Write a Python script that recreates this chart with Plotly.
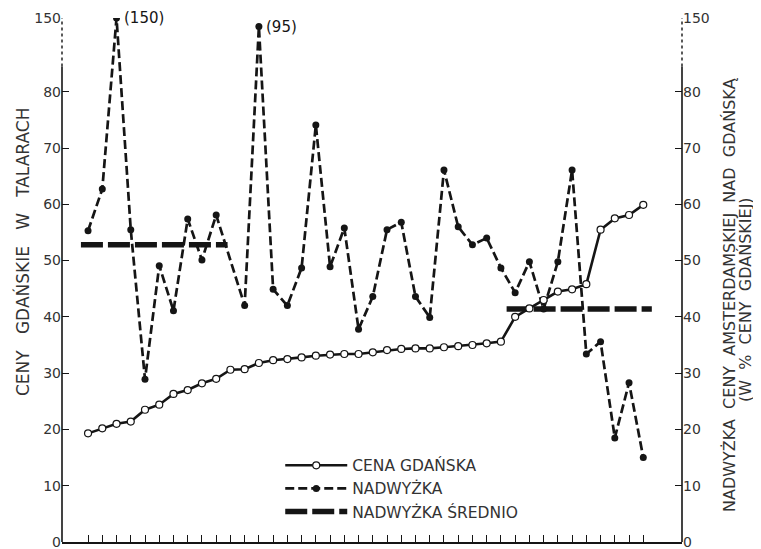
import plotly.graph_objects as go

# --- data ---
idx = list(range(40))
cena_gdanska = [19.3, 20.2, 21.0, 21.4, 23.5, 24.4, 26.3, 27.0, 28.2, 29.0,
                30.6, 30.7, 31.8, 32.3, 32.5, 32.8, 33.1, 33.3, 33.4, 33.4,
                33.7, 34.1, 34.3, 34.4, 34.4, 34.6, 34.8, 35.0, 35.3, 35.6,
                40.0, 41.5, 43.0, 44.5, 44.9, 45.8, 55.5, 57.5, 58.1, 59.9]
nadwyzka = [55.3, 62.7, 150, 55.5, 28.9, 49.1, 41.1, 57.4, 50.1, 58.1,
            None, 42.0, 95, 44.9, 42.0, 48.7, 74.1, 48.9, 55.8, 37.8,
            43.6, 55.5, 56.8, 43.6, 39.9, 66.1, 56.0, 52.8, 54.0, 48.7,
            44.3, 49.8, 41.4, 49.8, 66.1, 33.4, 35.6, 18.5, 28.3, 15.0]
# average surplus per period: (start index, end index, value)
srednio = [(-0.5, 9.8, 52.8), (29.4, 39.6, 41.4)]
tick_vals = [0, 10, 20, 30, 40, 50, 60, 70, 80, 150]
tick_labels = ["0", "10", "20", "30", "40", "50", "60", "70", "80", "150"]

BREAK = 80.0
TOP_POS = 93.1


def ypos(v):
    """Broken axis: linear up to 80, compressed above."""
    if v is None:
        return None
    if v <= BREAK:
        return v
    return BREAK + (TOP_POS - BREAK) * ((v - BREAK) / (150 - BREAK)) ** 0.08


FONT = "DejaVu Sans"
INK = "#151515"
GREY = "#333333"
SP2 = "&nbsp;&nbsp;"
SP3 = "&nbsp;&nbsp;&nbsp;"

fig = go.Figure()

# average surplus (thick long dashes)
ax, ay = [], []
for s, e, v in srednio:
    ax += [s, e, None]
    ay += [v, v, None]
fig.add_trace(go.Scatter(
    x=ax, y=ay, mode="lines", name="NADWYŻKA ŚREDNIO",
    line=dict(color=INK, width=5.5, dash="22px,5px"), connectgaps=False,
    legendrank=3))

# surplus
fig.add_trace(go.Scatter(
    x=idx, y=[ypos(v) for v in nadwyzka], mode="lines+markers", name="NADWYŻKA",
    line=dict(color=INK, width=2.7, dash="9px,4px"), connectgaps=True,
    marker=dict(symbol="circle", size=7, color=INK), legendrank=2))

# Gdańsk price
fig.add_trace(go.Scatter(
    x=idx, y=cena_gdanska, mode="lines+markers", name="CENA GDAŃSKA",
    line=dict(color=INK, width=2.6),
    marker=dict(symbol="circle", size=7, color="white",
                line=dict(color=INK, width=1.2)), legendrank=1))

# labels for off-scale values
for i, v in enumerate(nadwyzka):
    if v is not None and v > BREAK:
        fig.add_annotation(x=i, y=ypos(v), text=f"({v})", showarrow=False,
                           xanchor="left", yanchor="middle", xshift=5,
                           font=dict(family=FONT, size=15, color=INK))

y_pos_ticks = [ypos(v) for v in tick_vals]
yrange = [0, TOP_POS]

# the page body adds an 8px offset, so the figure is sized/margined to compensate
fig.update_layout(
    width=753, height=541,
    margin=dict(l=54, r=79, t=10, b=7),
    paper_bgcolor="white", plot_bgcolor="white",
    font=dict(family=FONT, color=INK),
    showlegend=True,
    legend=dict(x=0.352, y=0.178, xanchor="left", yanchor="top",
                bgcolor="rgba(0,0,0,0)", font=dict(family=FONT, size=15.5, color=GREY),
                itemwidth=62, tracegroupgap=0, traceorder="normal"),
    xaxis=dict(range=[-1.83, 41.72], tickvals=idx, showticklabels=False,
               ticks="inside", ticklen=7, tickcolor=INK, tickwidth=1,
               showline=True, linecolor=INK, linewidth=1.6, showgrid=False,
               zeroline=False, mirror=False),
    yaxis=dict(range=yrange, tickvals=y_pos_ticks, ticktext=tick_labels,
               ticks="inside", ticklen=7, tickcolor=INK, showline=False,
               showgrid=False, zeroline=False, automargin=False,
               ticklabeloverflow="allow",
               tickfont=dict(family=FONT, size=14, color=GREY)),
    yaxis2=dict(range=yrange, tickvals=y_pos_ticks, ticktext=tick_labels,
                overlaying="y", side="right", ticks="inside", ticklen=7,
                tickcolor=INK, showline=False, showgrid=False, zeroline=False,
                automargin=False, ticklabeloverflow="allow",
                tickfont=dict(family=FONT, size=14, color=GREY)),
)

# dummy invisible trace to activate yaxis2
fig.add_trace(go.Scatter(x=[None], y=[None], yaxis="y2", showlegend=False))

# axis lines: solid below the break, dotted across the break
for xp in (0, 1):
    fig.add_shape(type="line", xref="paper", yref="y", x0=xp, x1=xp,
                  y0=0, y1=84.5, line=dict(color=INK, width=1.6))
    fig.add_shape(type="line", xref="paper", yref="y", x0=xp, x1=xp,
                  y0=84.5, y1=TOP_POS, line=dict(color=INK, width=1.4, dash="dot"))

# axis titles (plot area spans 620 px wide, 524 px tall)
fig.add_annotation(xref="paper", yref="paper", x=(22 - 62) / 620, y=(542 - 252) / 524,
                   xanchor="center", yanchor="middle",
                   text=SP3.join(["CENY", "GDAŃSKIE", "W", "TALARACH"]),
                   textangle=-90, showarrow=False,
                   font=dict(family=FONT, size=17, color=GREY))
fig.add_annotation(xref="paper", yref="paper", x=(729 - 62) / 620, y=(542 - 295) / 524,
                   xanchor="center", yanchor="middle",
                   text=SP2.join(["NADWYŻKA", "CENY", "AMSTERDAMSKIEJ", "NAD", "GDAŃSKĄ"]),
                   textangle=-90, showarrow=False,
                   font=dict(family=FONT, size=16, color=GREY))
fig.add_annotation(xref="paper", yref="paper", x=(745 - 62) / 620, y=(542 - 300) / 524,
                   xanchor="center", yanchor="middle",
                   text=SP2.join(["(W", "%", "CENY", "GDAŃSKIEJ)"]),
                   textangle=-90, showarrow=False,
                   font=dict(family=FONT, size=16, color=GREY))

fig.write_html("out.html")
